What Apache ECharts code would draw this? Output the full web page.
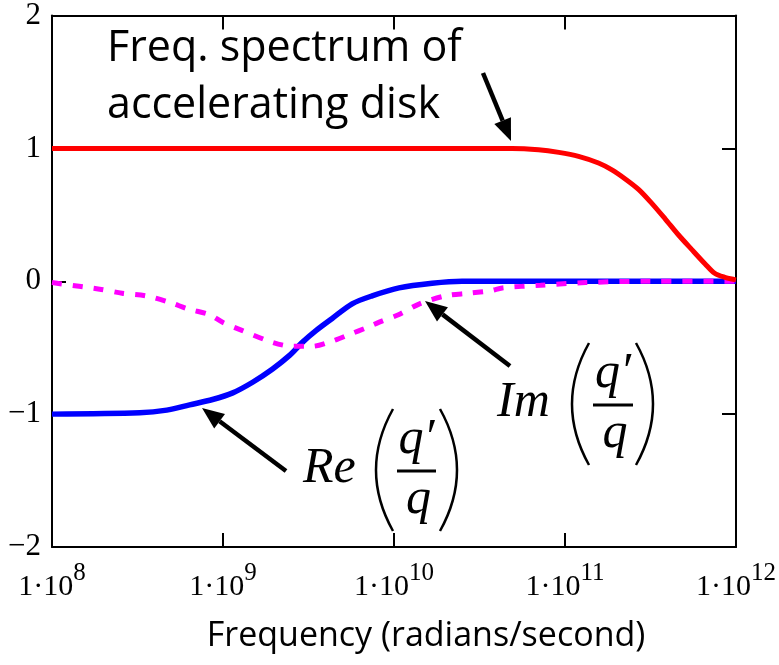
<!DOCTYPE html>
<html>
<head>
<meta charset="utf-8">
<script src="https://cdn.jsdelivr.net/npm/echarts@6/dist/echarts.min.js"></script>
<style>
  html, body { margin: 0; padding: 0; background: #fff; }
  #main { width: 779px; height: 665px; }
</style>
</head>
<body>
<div id="main"></div>
<script>
// frequency (rad/s) and values
var specFreq = [1e8, 4.9e10, 7e10, 9.2e10, 1.2e11, 1.57e11, 1.87e11, 2.25e11, 2.7e11, 3.2e11, 3.85e11, 4.6e11, 5.5e11, 6.6e11, 7.5e11, 8.6e11, 1e12];
var specVal  = [1, 1, 0.99, 0.97, 0.94, 0.89, 0.84, 0.77, 0.69, 0.59, 0.47, 0.35, 0.24, 0.13, 0.06, 0.03, 0.01];

var reFreq = [1e8, 3.26e8, 4.69e8, 6.38e8, 8.69e8, 1.14e9, 1.49e9, 1.95e9, 2.44e9, 2.91e9, 3.51e9, 4.35e9, 5.69e9, 7.45e9, 1.07e10, 1.67e10, 2.5e10, 1e11, 1e12];
var reVal  = [-1, -0.99, -0.97, -0.93, -0.89, -0.84, -0.76, -0.66, -0.56, -0.46, -0.37, -0.28, -0.17, -0.11, -0.05, -0.015, 0, 0, 0];

var imFreq = [1e8, 1.9e8, 2.57e8, 3.55e8, 4.9e8, 6.3e8, 8.3e8, 1e9, 1.29e9, 1.95e9, 2.57e9, 3.3e9, 4.37e9, 5.5e9, 6.9e9, 8.5e9, 1.07e10, 1.41e10, 2e10, 2.75e10, 3.7e10, 4.3e10, 7.2e10, 1.32e11, 2.95e11, 1e12];
var imVal  = [-0.01, -0.06, -0.09, -0.11, -0.16, -0.21, -0.25, -0.31, -0.37, -0.46, -0.49, -0.49, -0.45, -0.40, -0.35, -0.30, -0.25, -0.17, -0.11, -0.09, -0.07, -0.05, -0.03, -0.01, 0, 0];

var yTicks = [-2, -1, 0, 1, 2];

function pairs(xs, ys) {
    return xs.map(function (x, i) { return [x, ys[i]]; });
}

function arrow(x1, y1, x2, y2) {
    var a = Math.atan2(y2 - y1, x2 - x1);
    var c = Math.cos(a), s = Math.sin(a);
    var bx = x2 - 22 * c, by = y2 - 22 * s;
    return [
        { type: 'line', z: 100, shape: { x1: x1, y1: y1, x2: bx, y2: by }, style: { stroke: '#000', lineWidth: 4.5 } },
        { type: 'polygon', z: 100, shape: { points: [[x2, y2], [bx - 9 * s, by + 9 * c], [bx + 9 * s, by - 9 * c]] }, style: { fill: '#000' } }
    ];
}

function paren(x, yTop, yBot, dx) {
    return { type: 'bezierCurve', z: 100, shape: { x1: x, y1: yTop, x2: x, y2: yBot, cpx1: x + dx, cpy1: (yTop + yBot) / 2 },
             style: { stroke: '#000', lineWidth: 2.5, fill: null } };
}

function mathText(x, y, txt, size, align, valign) {
    return { type: 'text', z: 100, x: x, y: y,
             style: { text: txt, font: 'italic ' + size + 'px "Liberation Serif"', fill: '#000', align: align, verticalAlign: valign } };
}

// fraction label like Re(q'/q)
function fracLabel(word, wx, cy, px1, px2, barL, barR) {
    return [
        mathText(wx, cy - 2, word, 50, 'left', 'middle'),
        paren(px1, cy - 62, cy + 60, -34),
        paren(px2, cy - 62, cy + 60, 34),
        mathText((barL + barR) / 2, cy - 6, 'q\u2032', 50, 'center', 'bottom'),
        { type: 'line', z: 100, shape: { x1: barL, y1: cy, x2: barR, y2: cy }, style: { stroke: '#000', lineWidth: 3 } },
        mathText((barL + barR) / 2 + 2, cy + 4, 'q', 50, 'center', 'top')
    ];
}

var myChart = echarts.init(document.getElementById('main'));

var graphics = []
    .concat(arrow(483, 73, 511, 141))
    .concat(arrow(510, 366, 425, 301))
    .concat(arrow(286, 471, 202, 408))
    .concat(fracLabel('Re', 303, 471, 393, 440, 397, 436))
    .concat(fracLabel('Im', 497, 405, 589, 636, 593, 633));

graphics.push({
    type: 'text', z: 100, x: 107, y: 70,
    style: { text: 'Freq. spectrum of', font: '43px "Open Sans"', fill: '#000', verticalAlign: 'bottom' }
});
graphics.push({
    type: 'text', z: 100, x: 107, y: 127,
    style: { text: 'accelerating disk', font: '43px "Open Sans"', fill: '#000', verticalAlign: 'bottom' }
});

var option = {
    animation: false,
    backgroundColor: '#fff',
    grid: { left: 52, right: 41, top: 12, bottom: 118 },
    xAxis: [{
        type: 'log',
        logBase: 10,
        min: 1e8,
        max: 1e12,
        position: 'bottom',
        name: 'Frequency (radians/second)',
        nameLocation: 'middle',
        nameGap: 72,
        nameTextStyle: { fontFamily: 'Open Sans', fontSize: 34, color: '#000', padding: [0, 0, 0, 64] },
        axisLine: { onZero: false, lineStyle: { color: '#000', width: 2 } },
        axisTick: { show: true, inside: true, length: 14, lineStyle: { color: '#000', width: 2 } },
        splitLine: { show: false },
        axisLabel: {
            margin: 14,
            formatter: function (v) {
                var e = Math.round(Math.log10(v));
                return '{a|1\u00b710}{b|' + e + '}';
            },
            rich: {
                a: { fontFamily: 'Liberation Serif', fontSize: 30, color: '#000', verticalAlign: 'bottom' },
                b: { fontFamily: 'Liberation Serif', fontSize: 25, color: '#000', verticalAlign: 'bottom', padding: [0, 0, 16, 0] }
            }
        }
    }, {
        type: 'log',
        logBase: 10,
        min: 1e8,
        max: 1e12,
        position: 'top',
        axisLine: { onZero: false, lineStyle: { color: '#000', width: 2 } },
        axisTick: { show: true, inside: true, length: 14, lineStyle: { color: '#000', width: 2 } },
        axisLabel: { show: false },
        splitLine: { show: false }
    }],
    yAxis: [{
        type: 'value',
        min: yTicks[0],
        max: yTicks[yTicks.length - 1],
        interval: 1,
        position: 'left',
        axisLine: { show: true, onZero: false, lineStyle: { color: '#000', width: 2 } },
        axisTick: { show: true, inside: true, length: 14, lineStyle: { color: '#000', width: 2 } },
        splitLine: { show: false },
        axisLabel: {
            margin: 11,
            fontFamily: 'Liberation Serif',
            fontSize: 31,
            color: '#000',
            formatter: function (v) { return v < 0 ? '\u2212' + (-v) : String(v); }
        }
    }, {
        type: 'value',
        min: yTicks[0],
        max: yTicks[yTicks.length - 1],
        interval: 1,
        position: 'right',
        axisLine: { show: true, onZero: false, lineStyle: { color: '#000', width: 2 } },
        axisTick: { show: true, inside: true, length: 14, lineStyle: { color: '#000', width: 2 } },
        splitLine: { show: false },
        axisLabel: { show: false }
    }],
    series: [{
        name: 'Re',
        type: 'line',
        data: pairs(reFreq, reVal),
        smooth: 0.3,
        showSymbol: false,
        lineStyle: { color: '#0000ff', width: 5.5 }
    }, {
        name: 'Im',
        type: 'line',
        data: pairs(imFreq, imVal),
        smooth: 0.3,
        showSymbol: false,
        lineStyle: { color: '#ff00ff', width: 5, type: [10, 11] }
    }, {
        name: 'Spectrum',
        type: 'line',
        data: pairs(specFreq, specVal),
        smooth: 0.3,
        showSymbol: false,
        lineStyle: { color: '#ff0000', width: 5 }
    }],
    graphic: graphics
};

myChart.setOption(option);
</script>
</body>
</html>
